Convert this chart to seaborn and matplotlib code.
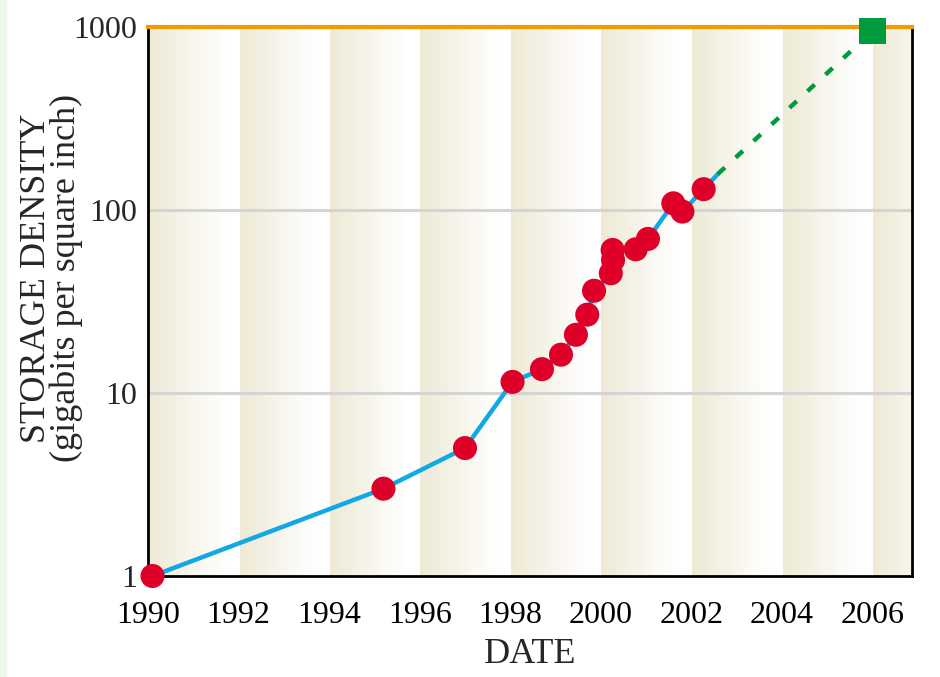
import numpy as np
import matplotlib
matplotlib.use("Agg")
import matplotlib.pyplot as plt
from matplotlib.colors import LinearSegmentedColormap
from matplotlib.patches import Rectangle
import pandas as pd
import seaborn as sns

# measured storage densities (gigabits per square inch)
years = [1990.1, 1995.2, 1997.0, 1998.05, 1998.7, 1999.12, 1999.45, 1999.7,
         1999.85, 2000.22, 2000.27, 2000.26, 2000.77, 2001.04, 2001.6,
         2001.8, 2002.27]
density = [1.0, 3.0, 5.0, 11.5, 13.5, 16.2, 20.8, 26.8, 36.2, 45.1, 53.3,
           60.5, 61.0, 69.5, 108.8, 98.0, 130.0]

# projection
proj_years = [2002.58, 2006.0]
proj_density = [157.0, 950.0]

xticks = [1990, 1992, 1994, 1996, 1998, 2000, 2002, 2004, 2006]
yticks = [1, 10, 100, 1000]
ytick_labels = ["1", "10", "100", "1000"]

df = pd.DataFrame({"year": years, "density": density})
line_df = pd.DataFrame({"year": years + [proj_years[0]],
                        "density": density + [proj_density[0]]})
proj_df = pd.DataFrame({"year": proj_years, "density": proj_density})

sns.set_style("white")
plt.rcParams["font.family"] = ["Liberation Serif", "DejaVu Serif"]

fig = plt.figure(figsize=(9.4, 6.77), dpi=100)
fig.patch.set_facecolor("white")
fig.patches.append(Rectangle((0, 0), 0.006, 1, transform=fig.transFigure,
                             color="#eef6ea", zorder=0))
ax = fig.add_axes([0.1574, 0.1492, 0.8128, 0.8109])

x0, x1 = 1990, 2006.87
ax.set_xlim(x0, x1)
ax.set_ylim(1, 1000)
ax.set_yscale("log")

# striped gradient background, one band per two years
beige = LinearSegmentedColormap.from_list("band", ["#eeead6", "#ffffff"])
xs = np.linspace(x0, x1, 1200)
frac = np.clip(((xs - x0) % 2) / 2 / 0.85, 0, 1)
ax.imshow(frac[np.newaxis, :], aspect="auto", cmap=beige, vmin=0, vmax=1,
          extent=[x0, x1, 1, 1000], zorder=0, interpolation="nearest")

for v in [10, 100]:
    ax.axhline(v, color="#d4d4d4", lw=2.2, zorder=1)

sns.lineplot(data=line_df, x="year", y="density", sort=False, color="#12a8e4",
             lw=3.2, ax=ax, zorder=2)
sns.lineplot(data=proj_df, x="year", y="density", sort=False, color="#009b3e",
             lw=3.2, ax=ax, zorder=2, dashes=False)
ax.lines[-1].set_linestyle((0, (2.2, 3.3)))
sns.scatterplot(data=df, x="year", y="density", color="#de0029", s=300,
                edgecolor="none", ax=ax, zorder=3, clip_on=False)
ax.scatter([proj_years[1]], [proj_density[1]], marker="s", s=360,
           color="#009b3e", zorder=6, clip_on=False, edgecolors="none")

ax.set_xticks(xticks)
ax.set_xticklabels([str(t) for t in xticks])
ax.set_yticks(yticks)
ax.set_yticklabels(ytick_labels)
ax.minorticks_off()
ax.tick_params(axis="x", direction="in", length=7, width=1.8, pad=18,
               labelsize=23, colors="black")
ax.tick_params(axis="y", length=0, pad=8, labelsize=23)

for s in ["left", "bottom", "right"]:
    ax.spines[s].set_color("black")
    ax.spines[s].set_linewidth(2)
ax.spines["top"].set_color("#f29c00")
ax.spines["top"].set_linewidth(3)
ax.spines["top"].set_zorder(5)

ax.set_xlabel("DATE", fontsize=26, labelpad=6)
ax.set_ylabel("STORAGE DENSITY\n(gigabits per square inch)", fontsize=26,
              linespacing=0.85, va="center")
ax.yaxis.set_label_coords(-0.126, 0.543)

fig.savefig("out.png", dpi=100)
